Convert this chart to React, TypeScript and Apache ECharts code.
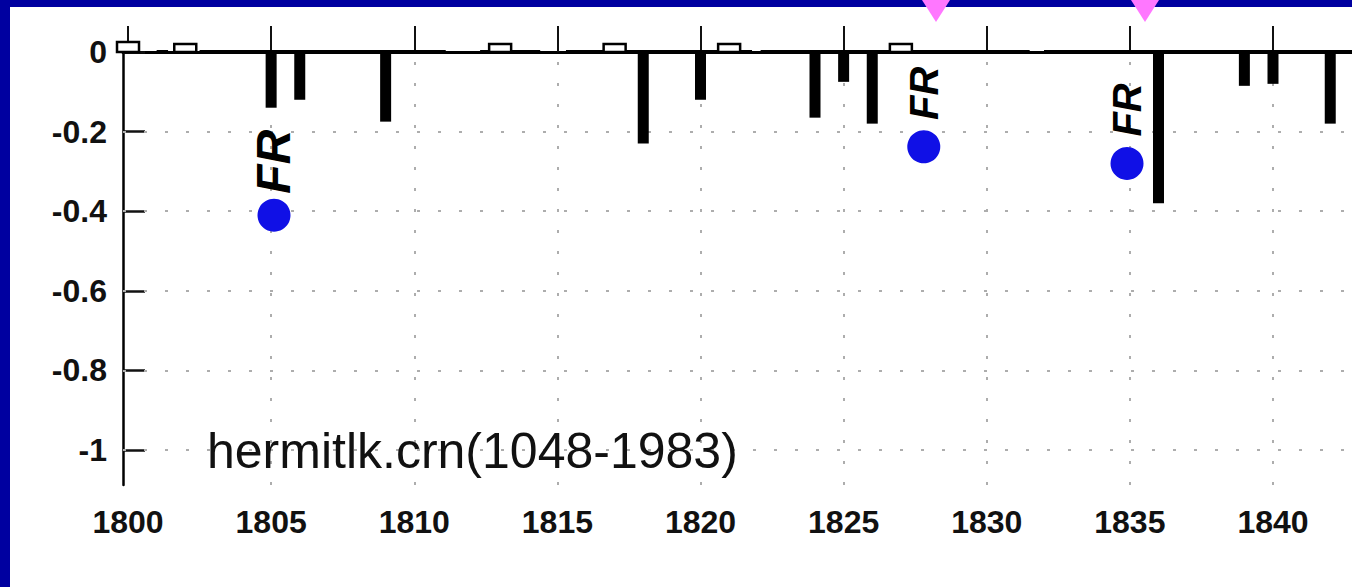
import React, { useEffect, useRef } from "react";
import * as echarts from "echarts";

// ---- data ----
const X_TICKS = [1800, 1805, 1810, 1815, 1820, 1825, 1830, 1835, 1840];
const Y_TICKS = [0, -0.2, -0.4, -0.6, -0.8, -1];
const X_MIN = 1799.825;
const X_MAX = 1842.76;
const Y_MIN = -1.088;
const Y_MAX = 0;

const BAR_YEARS = [1800, 1802, 1805, 1806, 1809, 1813, 1817, 1818, 1820, 1821, 1824, 1825, 1826, 1827, 1836, 1839, 1840, 1842];
const BAR_VALUES = [0.025, 0.02, -0.14, -0.12, -0.175, 0.02, 0.02, -0.23, -0.12, 0.02, -0.165, -0.075, -0.18, 0.02, -0.38, -0.085, -0.08, -0.18];

const ZERO_SEG_START = [1801.0, 1802.5, 1812.3, 1815.3, 1822.1, 1832.0];
const ZERO_SEG_END = [1801.4, 1811.1, 1814.4, 1821.8, 1831.5, 1842.76];

const DOT_YEARS = [1805.1, 1827.8, 1834.9];
const DOT_VALUES = [-0.41, -0.238, -0.28];
const DOT_LABELS = ["FR", "FR", "FR"];

const CHART_NOTE = "hermitlk.crn(1048-1983)";

const FONT = '"Liberation Sans", Arial, sans-serif';

export default function App() {
  const ref = useRef<HTMLDivElement>(null);

  useEffect(() => {
    document.body.style.margin = "0";
    document.body.style.background = "#ffffff";
    if (!ref.current) return;
    const chart = echarts.init(ref.current, null, { renderer: "svg" });

    const barData = BAR_YEARS.map((y, i) => [y, BAR_VALUES[i]]);
    const zeroData = ZERO_SEG_START.map((s, i) => [s, ZERO_SEG_END[i]]);
    const dotData = DOT_YEARS.map((y, i) => ({
      value: [y, DOT_VALUES[i]],
      name: DOT_LABELS[i],
      label: { fontSize: i === 0 ? 48 : 40 },
    }));

    const gridLines = [
      ...Y_TICKS.slice(1).map((v) => ({ yAxis: v })),
      ...X_TICKS.slice(1).map((v) => ({ xAxis: v })),
    ];

    chart.setOption({
      animation: false,
      backgroundColor: "#ffffff",
      grid: { left: 123, top: 52, right: 0, bottom: 102, containLabel: false },
      xAxis: {
        type: "value",
        min: X_MIN,
        max: X_MAX,
        axisLine: { show: true, lineStyle: { color: "#000", width: 3 } },
        axisTick: {
          show: true,
          inside: true,
          length: 26,
          customValues: X_TICKS,
          lineStyle: { color: "#111", width: 2 },
        },
        axisLabel: {
          customValues: X_TICKS,
          color: "#111",
          fontSize: 32,
          fontWeight: "bold",
          fontFamily: FONT,
          margin: 21,
          formatter: (v: number) => String(v),
        },
        splitLine: { show: false },
      },
      yAxis: {
        type: "value",
        min: Y_MIN,
        max: Y_MAX,
        axisLine: { show: true, lineStyle: { color: "#000", width: 2.5 } },
        axisTick: {
          show: true,
          inside: true,
          length: 22,
          customValues: Y_TICKS,
          lineStyle: { color: "#111", width: 2.5 },
        },
        axisLabel: {
          customValues: Y_TICKS,
          color: "#111",
          fontSize: 32,
          fontWeight: "bold",
          fontFamily: FONT,
          margin: 16,
          formatter: (v: number) => String(v),
        },
        splitLine: { show: false },
      },
      series: [
        {
          type: "custom",
          name: "zero",
          data: zeroData,
          z: 2,
          silent: true,
          renderItem: (_p: any, api: any) => {
            const a = api.coord([api.value(0), 0]);
            const b = api.coord([api.value(1), 0]);
            return {
              type: "line",
              shape: { x1: a[0], y1: a[1], x2: b[0], y2: b[1] },
              style: { stroke: "#000", lineWidth: 4 },
            };
          },
          markLine: {
            silent: true,
            symbol: "none",
            label: { show: false },
            lineStyle: { type: [3, 18], color: "#adadad", width: 2 },
            data: gridLines,
            z: 1,
          },
        },
        {
          type: "custom",
          name: "index",
          data: barData,
          z: 3,
          silent: true,
          renderItem: (_p: any, api: any) => {
            const x = api.value(0);
            const v = api.value(1);
            const p0 = api.coord([x, 0]);
            const p1 = api.coord([x, v]);
            if (v < 0) {
              return {
                type: "rect",
                shape: { x: p0[0] - 5.5, y: p0[1], width: 11, height: p1[1] - p0[1] },
                style: { fill: "#000" },
              };
            }
            return {
              type: "rect",
              shape: { x: p0[0] - 11, y: p1[1], width: 22, height: p0[1] - p1[1] },
              style: { fill: "#fff", stroke: "#000", lineWidth: 2.5 },
            };
          },
        },
        {
          type: "scatter",
          name: "FR",
          data: dotData,
          symbol: "circle",
          symbolSize: 33,
          z: 5,
          itemStyle: { color: "#1010e6", opacity: 1 },
          label: {
            show: true,
            formatter: (p: any) => p.name,
            position: ["50%", -37],
            align: "center",
            verticalAlign: "middle",
            rotate: 90,
            color: "#000",
            fontFamily: FONT,
            fontWeight: "bold",
            fontStyle: "italic",
          },
        },
      ],
      graphic: [
        {
          type: "text",
          left: 207,
          top: 426,
          style: {
            text: CHART_NOTE,
            font: `50px ${FONT}`,
            fill: "#111",
          },
          z: 10,
        },
        { type: "rect", shape: { x: 0, y: 0, width: 1352, height: 7 }, style: { fill: "#0000a0" }, z: 20 },
        { type: "rect", shape: { x: 0, y: 0, width: 10, height: 587 }, style: { fill: "#0000a0" }, z: 20 },
        {
          type: "polygon",
          shape: { points: [[922, 0], [950, 0], [936, 22]] },
          style: { fill: "#ff77ff" },
          z: 21,
        },
        {
          type: "polygon",
          shape: { points: [[1131, 0], [1159, 0], [1145, 22]] },
          style: { fill: "#ff77ff" },
          z: 21,
        },
      ],
    });

    return () => chart.dispose();
  }, []);

  return (
    <div
      ref={ref}
      style={{ position: "fixed", left: 0, top: 0, width: 1352, height: 587, background: "#fff" }}
    />
  );
}
